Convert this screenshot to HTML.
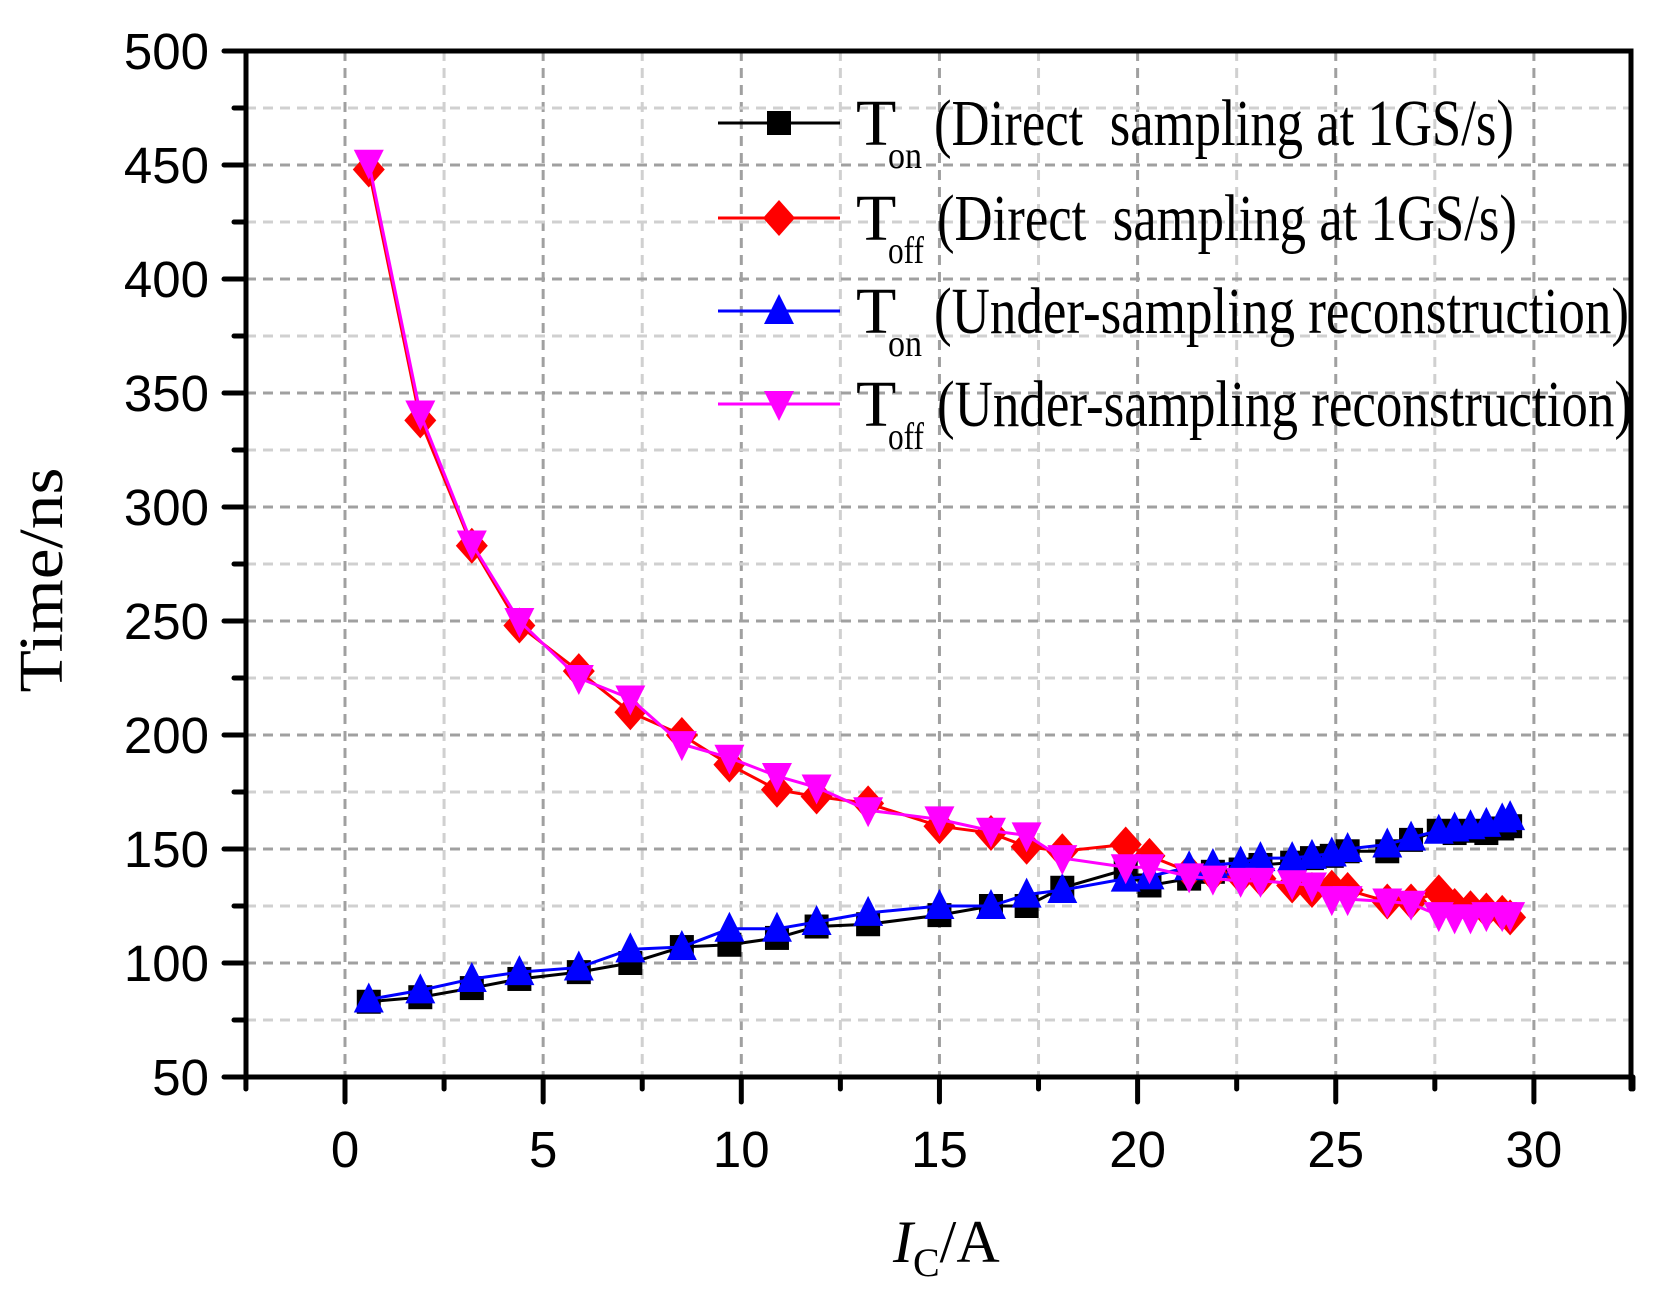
<!DOCTYPE html>
<html><head><meta charset="utf-8"><style>
html,body{margin:0;padding:0;background:#fff;}
svg{display:block;}
</style></head><body>
<svg id="s" width="1676" height="1311" xmlns="http://www.w3.org/2000/svg">
<g id="grid"></g>
<g id="series"></g>
<g id="axes"></g>
<g font-family="Liberation Sans, sans-serif" font-size="51" fill="#000" id="ticks"></g>
<text x="0" y="0" transform="translate(62,580) rotate(-90)" text-anchor="middle" font-family="Liberation Serif, serif" font-size="62" textLength="225" lengthAdjust="spacingAndGlyphs">Time/ns</text>
<text x="893" y="1262" font-family="Liberation Serif, serif" font-size="60"><tspan font-style="italic">I</tspan><tspan font-size="40" dy="14">C</tspan><tspan dy="-14">/A</tspan></text>
<g id="legend" font-family="Liberation Serif, serif"></g>
</svg>
<script>
const NS="http://www.w3.org/2000/svg";
function el(p,t,a){const e=document.createElementNS(NS,t);for(const k in a)e.setAttribute(k,a[k]);p.appendChild(e);return e;}
const X0=246,X1=1631,Y0=51,Y1=1077;
const sx=v=>345+v*39.63, sy=v=>1077-(v-50)*2.28;
const g=document.getElementById('grid');
for(let v=2.5;v<=30.1;v+=2.5){const maj=Math.abs(v%5)<0.01;el(g,'line',{x1:sx(v),x2:sx(v),y1:Y0,y2:Y1,stroke:maj?'#a0a0a0':'#d0d0d0','stroke-width':3,'stroke-dasharray':'10 7'});}
el(g,'line',{x1:sx(0),x2:sx(0),y1:Y0,y2:Y1,stroke:'#a0a0a0','stroke-width':3,'stroke-dasharray':'10 7'});
for(let v=75;v<500;v+=25){const maj=v%50==0;el(g,'line',{x1:X0,x2:X1,y1:sy(v),y2:sy(v),stroke:maj?'#a0a0a0':'#d0d0d0','stroke-width':3,'stroke-dasharray':'10 7'});}
const xs=[0.6,1.9,3.2,4.4,5.9,7.2,8.5,9.7,10.9,11.9,13.2,15,16.3,17.2,18.1,19.7,20.3,21.3,21.9,22.6,23.1,23.9,24.4,24.9,25.3,26.3,26.9,27.6,28.0,28.4,28.8,29.2,29.4];
const d={
a:[83,85,89,93,96,100,107,108,111,116,117,121,125,125,133,141,134,137,140,141,143,144,146,147,149,149,154,158,157,158,157,159,160],
b:[448,338,283,248,228,210,200,187,176,173,170,160,157,151,149,152,147,140,139,138,137,134,132,133,132,127,127,131,125,124,123,122,120],
c:[84,88,93,96,98,106,107,115,115,118,122,125,125,130,132,137,138,142,143,144,146,146,147,148,150,152,155,158,159,160,161,163,164],
e:[451,341,284,250,225,216,196,190,182,177,167,163,158,156,146,142,142,138,137,136,136,135,134,128,128,127,126,121,120,120,121,121,121]};
function marker(p,type,x,y,c){
 if(type=='sq')el(p,'rect',{x:x-12,y:y-12,width:24,height:24,fill:c});
 if(type=='di')el(p,'polygon',{points:`${x},${y-18} ${x+16},${y} ${x},${y+18} ${x-16},${y}`,fill:c});
 if(type=='up')el(p,'polygon',{points:`${x},${y-17} ${x+15},${y+13} ${x-15},${y+13}`,fill:c});
 if(type=='dn')el(p,'polygon',{points:`${x},${y+17} ${x+15},${y-13} ${x-15},${y-13}`,fill:c});
}
const S=[['a','sq','#000'],['b','di','#f00'],['c','up','#00f'],['e','dn','#f0f']];
const sg=document.getElementById('series');
S.forEach(([k,m,c])=>{el(sg,'polyline',{points:xs.map((x,i)=>sx(x)+','+sy(d[k][i])).join(' '),fill:'none',stroke:c,'stroke-width':3});xs.forEach((x,i)=>marker(sg,m,sx(x),sy(d[k][i]),c));});
const ax=document.getElementById('axes');
el(ax,'rect',{x:X0,y:Y0,width:X1-X0,height:Y1-Y0,fill:'none',stroke:'#000','stroke-width':5});
const tk=document.getElementById('ticks');
for(let v=50;v<=500;v+=25){const maj=v%50==0;el(ax,'line',{x1:X0-(maj?22:12),x2:X0,y1:sy(v),y2:sy(v),stroke:'#000','stroke-width':5,'stroke-linecap':'round'});
 if(maj){const t=el(tk,'text',{x:209,y:sy(v)+18,'text-anchor':'end'});t.textContent=v;}}
for(let v=-2.5;v<=32.6;v+=2.5){const maj=Math.abs(v%5)<0.01;el(ax,'line',{x1:sx(v),x2:sx(v),y1:Y1,y2:Y1+(maj?25:12),stroke:'#000','stroke-width':5,'stroke-linecap':'round'});
 if(maj&&v>=0){const t=el(tk,'text',{x:sx(v),y:1167,'text-anchor':'middle'});t.textContent=v;}}
el(ax,'line',{x1:X1,x2:X1,y1:Y1,y2:Y1+12,stroke:'#000','stroke-width':5,'stroke-linecap':'round'});
const lg=document.getElementById('legend');
const L=[['sq','#000','on','(Direct\u00a0\u00a0sampling at 1GS/s)',580],['di','#f00','off','(Direct\u00a0\u00a0sampling at 1GS/s)',580],['up','#00f','on','(Under-sampling reconstruction)',695],['dn','#f0f','off','(Under-sampling reconstruction)',695]];
const ry=[123,218,311,404];
L.forEach(([m,c,sub,txt,w],i)=>{const y=ry[i];
 el(lg,'line',{x1:718,x2:840,y1:y,y2:y,stroke:c,'stroke-width':3});marker(lg,m,779,y,c);
 let t=el(lg,'text',{x:856,y:y+22,'font-size':66});t.textContent='T';
 t=el(lg,'text',{x:888,y:y+45,'font-size':38,textLength:sub=='on'?34:36,lengthAdjust:'spacingAndGlyphs'});t.textContent=sub;
 t=el(lg,'text',{x:sub=='on'?934:937,y:y+22,'font-size':66,textLength:w,lengthAdjust:'spacingAndGlyphs'});t.textContent=txt;
});
</script>
</body></html>
